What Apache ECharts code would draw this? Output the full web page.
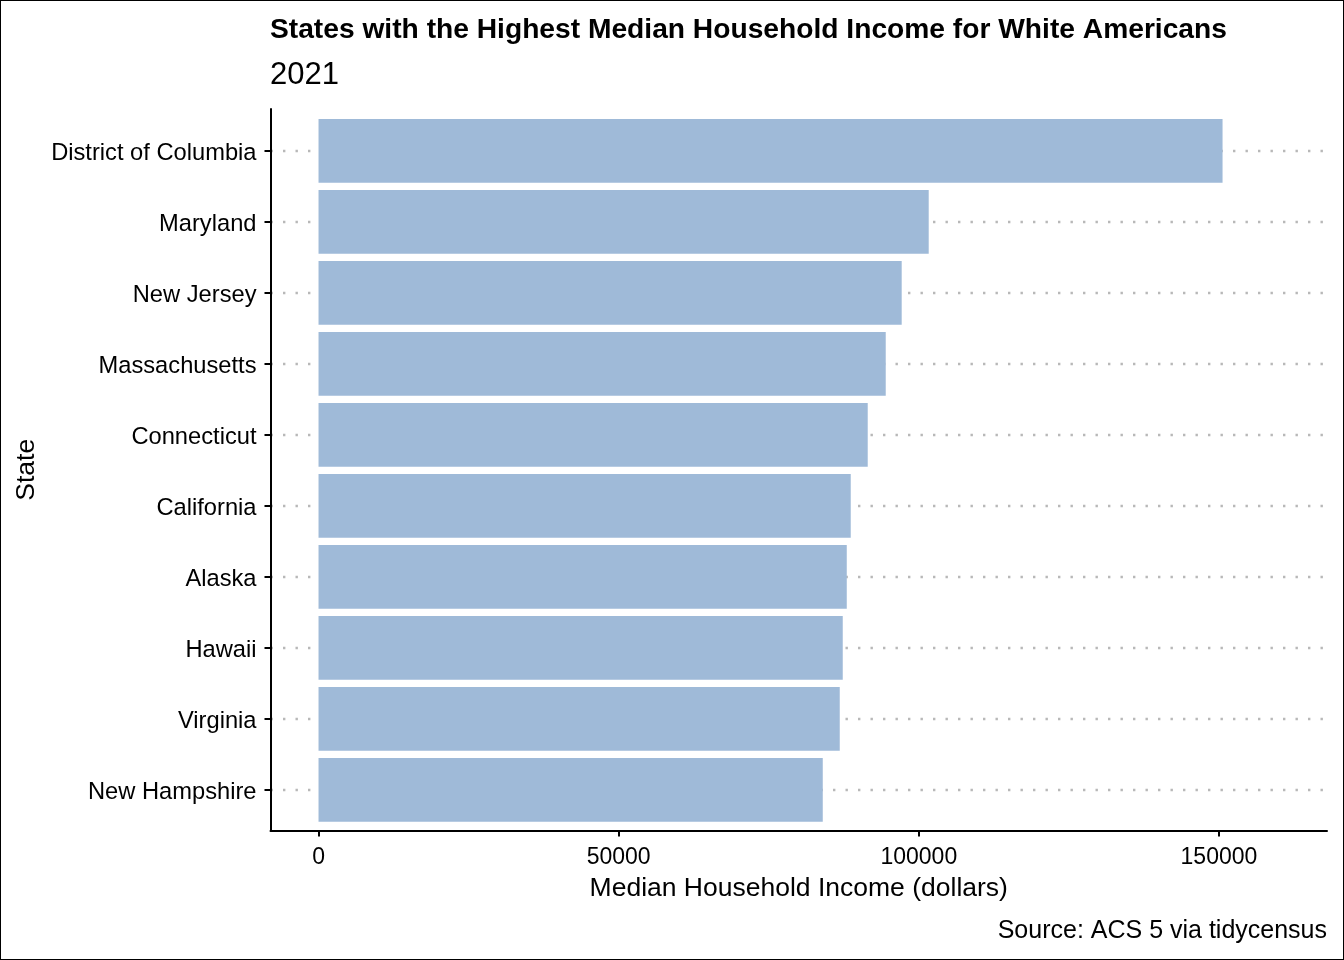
<!doctype html>
<html lang="en">
<head>
  <meta charset="utf-8">
  <title>Highest Median Household Income for White Americans</title>
  <script src="https://cdn.jsdelivr.net/npm/echarts@6/dist/echarts.min.js"></script>
  <style>
    html, body { margin: 0; padding: 0; background: #fff; }
    #wrap { position: relative; width: 1344px; height: 960px; }
    #wrap::after {
      content: ""; position: absolute; left: 0; top: 0; right: 0; bottom: 0;
      border: 1px solid #000; pointer-events: none;
    }
    #chart { width: 1344px; height: 960px; }
  </style>
</head>
<body>
<div id="wrap"><div id="chart"></div></div>
<script>
  // data
  var states = ['District of Columbia', 'Maryland', 'New Jersey', 'Massachusetts', 'Connecticut',
                'California', 'Alaska', 'Hawaii', 'Virginia', 'New Hampshire'];
  var income = [150600, 101650, 97150, 94490, 91490, 88660, 88000, 87330, 86830, 84000];
  var xTicks = [0, 50000, 100000, 150000];

  var font = '"Liberation Sans", Arial, Helvetica, sans-serif';
  var xMin = -8000, xMax = 168000;

  var myChart = echarts.init(document.getElementById('chart'));

  var option = {
    backgroundColor: '#fff',
    animation: false,
    textStyle: { fontFamily: font, color: '#000' },
    title: [
      {
        text: 'States with the Highest Median Household Income for White Americans',
        left: 270, top: 16, padding: 0,
        textStyle: { fontFamily: font, fontSize: 28.2, fontWeight: 'bold', color: '#000' }
      },
      {
        text: '2021',
        left: 270, top: 60, padding: 0,
        textStyle: { fontFamily: font, fontSize: 31, fontWeight: 'normal', color: '#000' }
      },
      {
        text: 'Source: ACS 5 via tidycensus',
        right: 17, top: 919, padding: 0,
        textStyle: { fontFamily: font, fontSize: 25, fontWeight: 'normal', color: '#000' }
      }
    ],
    grid: [
      // bars: category points sit on the top/bottom edge
      { left: 270.5, right: 17, top: 150.8, bottom: 170.2, containLabel: false, outerBoundsMode: 'none' },
      // frame: axis lines of the panel
      { left: 270.5, right: 17, top: 109, bottom: 129.5, containLabel: false, outerBoundsMode: 'none' }
    ],
    xAxis: [
      {
        gridIndex: 0, type: 'value', min: xMin, max: xMax, show: false,
        splitLine: { show: false }
      },
      {
        gridIndex: 1, type: 'value', min: xMin, max: xMax,
        name: 'Median Household Income (dollars)',
        nameLocation: 'middle', nameGap: 45,
        nameTextStyle: { fontFamily: font, fontSize: 26.5, color: '#000' },
        axisLine: { show: true, onZero: false, lineStyle: { color: '#000', width: 2 } },
        axisTick: { show: true, length: 6, customValues: xTicks, lineStyle: { color: '#000', width: 2 } },
        axisLabel: {
          show: true, customValues: xTicks, margin: 16,
          fontFamily: font, fontSize: 23, color: '#000',
          formatter: function (v) { return String(v); }
        },
        splitLine: { show: false }
      }
    ],
    yAxis: [
      {
        gridIndex: 0, type: 'category', data: states, inverse: true, boundaryGap: false,
        axisLine: { show: false, onZero: false },
        axisTick: { show: true, length: 6, alignWithLabel: true, lineStyle: { color: '#000', width: 2 } },
        axisLabel: {
          margin: 14,
          formatter: function (v) { return '{s|' + v + '}'; },
          rich: {
            s: { fontFamily: font, fontSize: 23.7, color: '#000', lineHeight: 30, verticalAlign: 'bottom' }
          }
        },
        splitLine: { show: true, lineStyle: { color: '#b8b8b8', width: 2.4, type: [2.4, 10.1] } }
      },
      {
        gridIndex: 1, type: 'value', min: 0, max: 1,
        name: 'State', nameLocation: 'middle', nameGap: 230, nameRotate: 90,
        nameTextStyle: { fontFamily: font, fontSize: 26.5, color: '#000' },
        axisLine: { show: true, onZero: false, lineStyle: { color: '#000', width: 2 } },
        axisTick: { show: false },
        axisLabel: { show: false },
        splitLine: { show: false }
      }
    ],
    series: [
      {
        name: 'income', type: 'bar',
        xAxisIndex: 0, yAxisIndex: 0,
        data: income,
        barWidth: 63.7,
        itemStyle: { color: '#9fbad8' },
        silent: true
      }
    ]
  };

  myChart.setOption(option);
</script>
</body>
</html>
